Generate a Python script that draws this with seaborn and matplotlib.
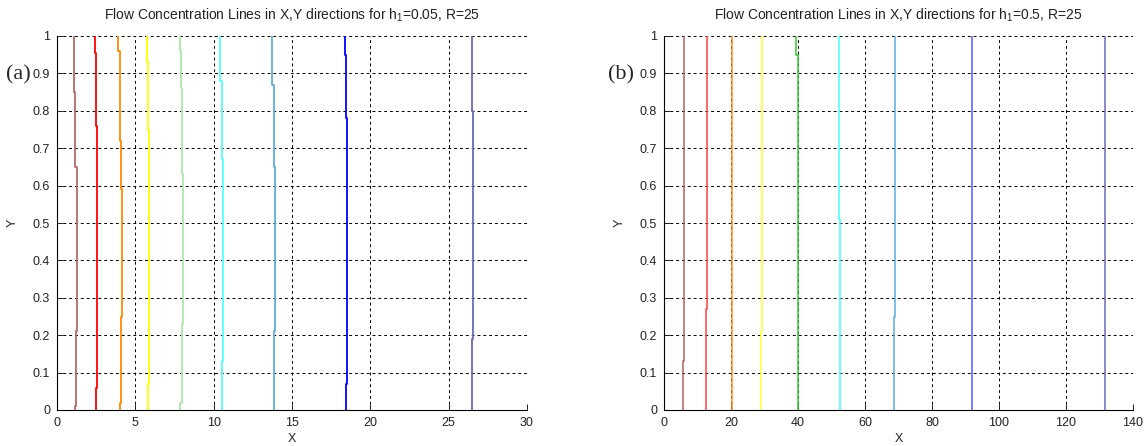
import matplotlib
matplotlib.use("Agg")
import matplotlib.pyplot as plt
import pandas as pd
import seaborn as sns

# ---------------- data ----------------
line_names = ["c1", "c2", "c3", "c4", "c5", "c6", "c7", "c8", "c9"]

# panel (a): h1 = 0.05, R = 25
a_title = "Flow Concentration Lines in X,Y directions for h$_1$=0.05, R=25"
a_xticks = [0, 5, 10, 15, 20, 25, 30]
a_lines_y = [
    [0, 0.01, 0.21, 0.65, 0.85, 1.0],
    [0, 0.06, 0.76, 0.955, 1.0],
    [0, 0.02, 0.25, 0.59, 0.72, 0.96, 1.0],
    [0, 0.07, 0.75, 0.93, 1.0],
    [0, 0.02, 0.23, 0.63, 0.86, 0.96, 1.0],
    [0, 0.13, 0.67, 0.88, 1.0],
    [0, 0.21, 0.65, 0.87, 1.0],
    [0, 0.07, 0.78, 0.95, 1.0],
    [0, 0.19, 0.80, 1.0],
]
a_lines_x = [
    [1.13, 1.19, 1.26, 1.17, 1.07, 1.07],
    [2.51, 2.57, 2.51, 2.45, 2.45],
    [4.00, 4.08, 4.15, 4.09, 4.00, 3.92, 3.92],
    [5.81, 5.87, 5.81, 5.75, 5.75],
    [7.87, 7.96, 8.02, 7.96, 7.90, 7.83, 7.83],
    [10.51, 10.57, 10.51, 10.43, 10.43],
    [13.83, 13.89, 13.83, 13.75, 13.75],
    [18.47, 18.53, 18.45, 18.38, 18.38],
    [26.46, 26.55, 26.50, 26.50],
]
a_colors = ["#b46a6a", "#ff0000", "#ff8a00", "#ffff00", "#ade6ad",
            "#55ffff", "#5eb0d8", "#0000ff", "#6a6ab8"]

# panel (b): h1 = 0.5, R = 25
b_title = "Flow Concentration Lines in X,Y directions for h$_1$=0.5, R=25"
b_xticks = [0, 20, 40, 60, 80, 100, 120, 140]
b_lines_y = [
    [0, 0.13, 1.0],
    [0, 0.27, 1.0],
    [0, 1.0],
    [0, 0.21, 1.0],
    [0, 0.95, 1.0],
    [0, 0.51, 1.0],
    [0, 0.25, 1.0],
    [0, 1.0],
    [0, 1.0],
]
b_lines_x = [
    [5.7, 6.0, 6.0],
    [12.55, 12.85, 12.85],
    [20.3, 20.3],
    [29.0, 29.3, 29.3],
    [39.9, 39.5, 39.5],
    [52.5, 52.2, 52.2],
    [68.7, 69.0, 69.0],
    [91.9, 91.9],
    [131.6, 131.6],
]
b_colors = ["#b06060", "#ff4040", "#ff8c1a", "#ffff30", "#30cc30",
            "#40ffff", "#5aaee0", "#5a5aff", "#6a6ab8"]

yticks = [0, 0.1, 0.2, 0.3, 0.4, 0.5, 0.6, 0.7, 0.8, 0.9, 1.0]
ytick_labels = ["0", "0.1", "0.2", "0.3", "0.4", "0.5", "0.6", "0.7", "0.8", "0.9", "1"]

# ---------------- style ----------------
sns.set_theme(style="white")
plt.rcParams["font.family"] = ["Liberation Sans", "DejaVu Sans"]
plt.rcParams["mathtext.default"] = "regular"

W, H = 1145, 446
fig = plt.figure(figsize=(W / 100, H / 100), dpi=100)
fig.patch.set_facecolor("white")

ax_a = fig.add_axes([57 / W, 36 / H, 470 / W, 374 / H])
ax_b = fig.add_axes([664 / W, 36 / H, 469 / W, 374 / H])


def long_frame(ys, xs):
    rows = []
    for name, yy, xx in zip(line_names, ys, xs):
        for y, x in zip(yy, xx):
            rows.append((name, x, y))
    return pd.DataFrame(rows, columns=["line", "x", "y"])


def draw(ax, ys, xs, colors, title, xticks, lw):
    df = long_frame(ys, xs)
    sns.lineplot(data=df, x="x", y="y", hue="line",
                 palette=dict(zip(line_names, colors)),
                 orient="y", sort=False, estimator=None,
                 drawstyle="steps-pre", linewidth=lw,
                 legend=False, ax=ax)
    ax.set_xlim(xticks[0], xticks[-1])
    ax.set_ylim(0, 1)
    ax.set_xticks(xticks)
    ax.set_xticklabels([str(t) for t in xticks])
    ax.set_yticks(yticks)
    ax.set_yticklabels(ytick_labels)
    ax.grid(True, color="black", linestyle=(0, (3, 3)), linewidth=0.7)
    ax.set_axisbelow(True)
    for side in ("top", "right"):
        ax.spines[side].set_visible(False)
    for side in ("left", "bottom"):
        ax.spines[side].set_color("black")
        ax.spines[side].set_linewidth(0.8)
    ax.tick_params(direction="in", length=4, width=0.7, colors="#222222",
                   labelsize=9, pad=5, bottom=True, left=True,
                   top=False, right=False)
    ax.set_xlabel("X", fontsize=9, labelpad=3, color="#222222")
    ax.set_ylabel("Y", fontsize=9, labelpad=10, color="#222222")
    ax.set_title(title, fontsize=10, pad=12, color="#222222")
    ax.set_facecolor("white")


draw(ax_a, a_lines_y, a_lines_x, a_colors, a_title, a_xticks, 1.3)
draw(ax_b, b_lines_y, b_lines_x, b_colors, b_title, b_xticks, 1.1)

fig.text(6 / W, 1 - 75 / H, "(a)", family="Liberation Serif",
         fontsize=16, va="center", ha="left")
fig.text(608 / W, 1 - 75 / H, "(b)", family="Liberation Serif",
         fontsize=16, va="center", ha="left")

fig.savefig("out.png", dpi=100, facecolor="white")
